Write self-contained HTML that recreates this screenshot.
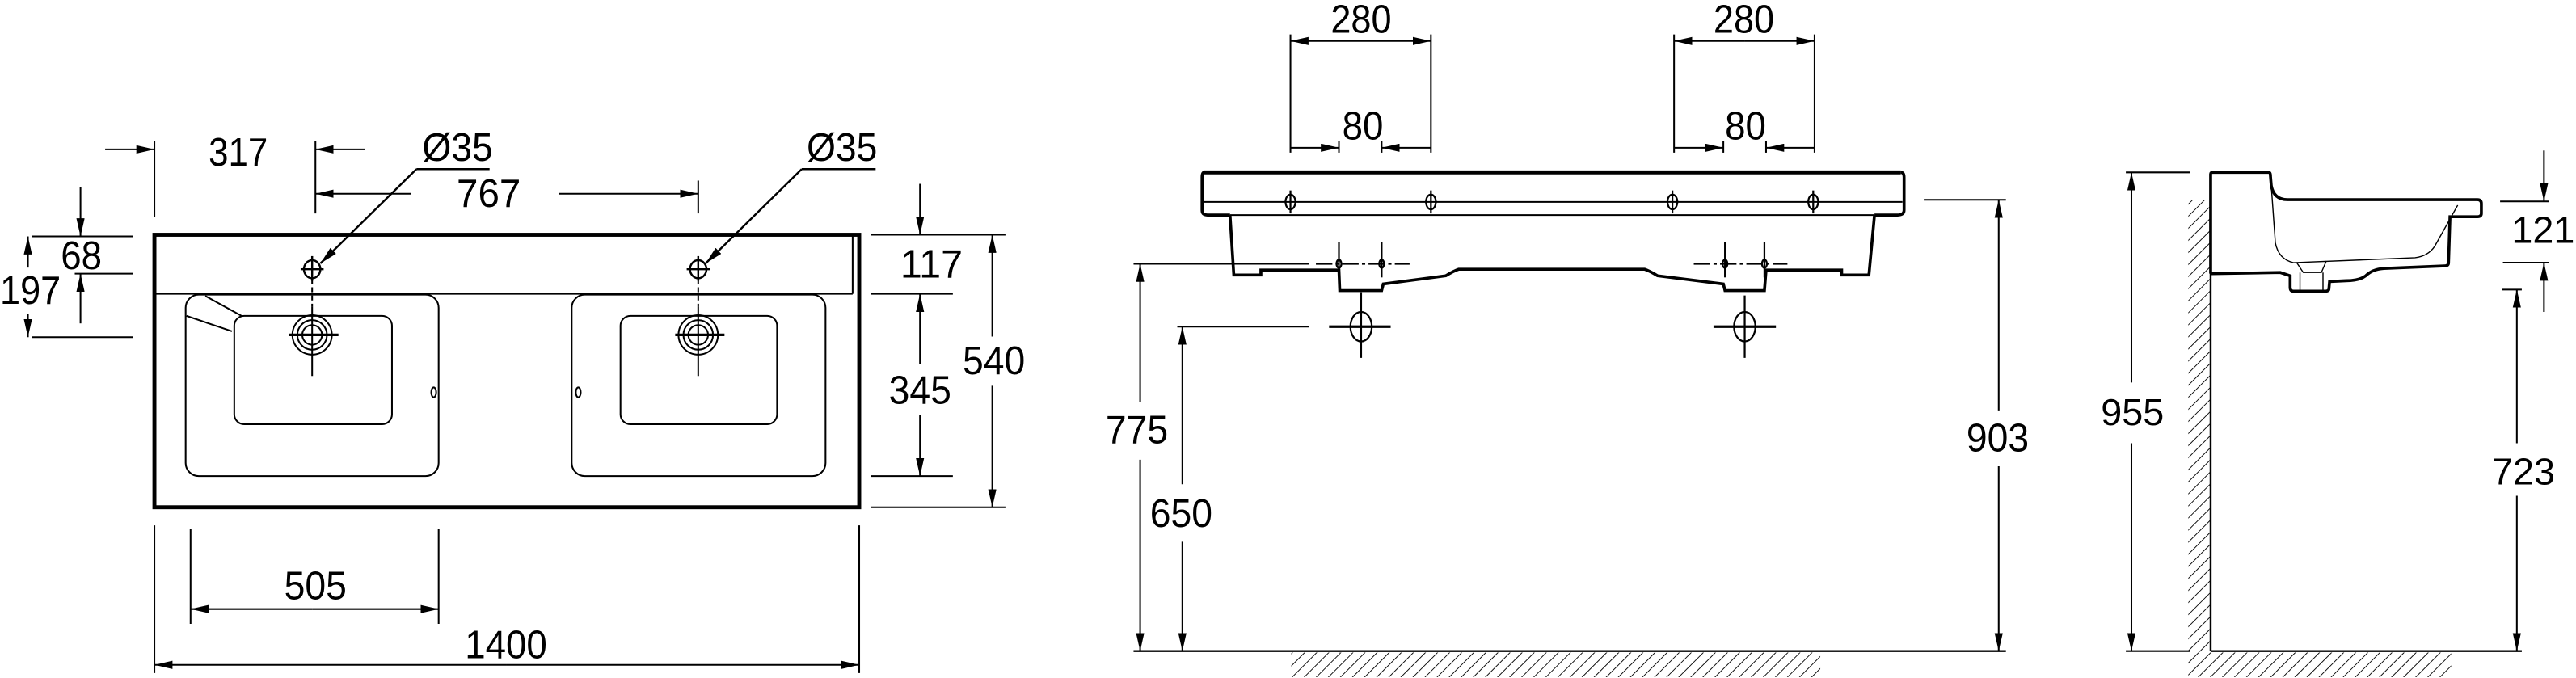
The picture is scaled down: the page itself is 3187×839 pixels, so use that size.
<!DOCTYPE html>
<html><head><meta charset="utf-8"><style>
html,body{margin:0;padding:0;background:#fff;}
svg{display:block;}
text{font-family:"Liberation Sans Narrow","Liberation Sans",sans-serif;fill:#000;}
</style></head><body>
<svg width="3187" height="839" viewBox="0 0 1568 413" preserveAspectRatio="none" xmlns="http://www.w3.org/2000/svg">
<defs>
<marker id="a" markerWidth="11" markerHeight="5" refX="11" refY="2.5" orient="auto-start-reverse" markerUnits="userSpaceOnUse"><path d="M0,0 L11,2.5 L0,5 Z" fill="#000"/></marker>
<pattern id="h" width="5.2" height="5.2" patternUnits="userSpaceOnUse" patternTransform="rotate(45)"><line x1="0" y1="0" x2="0" y2="5.2" stroke="#000" stroke-width="0.9"/></pattern>
</defs>
<g fill="none" stroke="#000" stroke-width="1">
<!-- LEFT VIEW -->
<rect x="94" y="143" width="429" height="166" stroke-width="2.4"/>
<line x1="95" y1="179" x2="519" y2="179"/>
<line x1="519" y1="144" x2="519" y2="179"/>
<rect x="113" y="179.5" width="154" height="110.5" rx="8"/>
<rect x="142.6" y="192.4" width="96" height="66" rx="6"/>
<line x1="113.5" y1="192.4" x2="141.2" y2="201.8"/>
<line x1="125" y1="180.3" x2="147" y2="192.4"/>
<rect x="348" y="179.5" width="154.5" height="110.5" rx="8"/>
<rect x="377.7" y="192.4" width="95.3" height="66" rx="6"/>
<ellipse cx="264" cy="239" rx="1.5" ry="3"/>
<ellipse cx="352" cy="239" rx="1.5" ry="3"/>
<g id="d1">
<circle cx="190" cy="204" r="12"/><circle cx="190" cy="204" r="9"/><circle cx="190" cy="204" r="6"/>
<line x1="176" y1="204" x2="206" y2="204" stroke-width="1.6"/>
<line x1="190" y1="187" x2="190" y2="229"/>
<line x1="190" y1="170" x2="190" y2="187" stroke-dasharray="3,2"/>
<ellipse cx="190" cy="164" rx="5" ry="5.5" stroke-width="1.2"/>
<line x1="183" y1="164" x2="197" y2="164" stroke-width="1.2"/>
<line x1="190" y1="156" x2="190" y2="171" stroke-width="1.2"/>
</g>
<use href="#d1" transform="translate(235,0)"/>
<line x1="94" y1="86" x2="94" y2="132"/>
<line x1="192" y1="86" x2="192" y2="130"/>
<line x1="64" y1="91" x2="94" y2="91" marker-end="url(#a)"/>
<line x1="222" y1="91" x2="192" y2="91" marker-end="url(#a)"/>
<line x1="425" y1="110" x2="425" y2="130"/>
<line x1="250" y1="118" x2="192" y2="118" marker-end="url(#a)"/>
<line x1="340" y1="118" x2="425" y2="118" marker-end="url(#a)"/>
<line x1="298" y1="103" x2="253.5" y2="103" stroke-width="1.2"/>
<line x1="253.5" y1="103" x2="195" y2="160.5" marker-end="url(#a)" stroke-width="1.2"/>
<line x1="533" y1="103" x2="488" y2="103" stroke-width="1.2"/>
<line x1="488" y1="103" x2="429.5" y2="160.5" marker-end="url(#a)" stroke-width="1.2"/>
<line x1="19.5" y1="144" x2="81" y2="144"/>
<line x1="45.5" y1="166.7" x2="81" y2="166.7"/>
<line x1="19.5" y1="205.4" x2="81" y2="205.4"/>
<line x1="49" y1="114" x2="49" y2="144" marker-end="url(#a)"/>
<line x1="49" y1="197" x2="49" y2="166.7" marker-end="url(#a)"/>
<line x1="17" y1="163" x2="17" y2="144" marker-end="url(#a)"/>
<line x1="17" y1="191" x2="17" y2="205.4" marker-end="url(#a)"/>
<line x1="530" y1="143" x2="612" y2="143"/>
<line x1="530" y1="179" x2="580" y2="179"/>
<line x1="530" y1="290" x2="580" y2="290"/>
<line x1="530" y1="309" x2="612" y2="309"/>
<line x1="560" y1="112" x2="560" y2="143" marker-end="url(#a)"/>
<line x1="560" y1="222" x2="560" y2="179" marker-end="url(#a)"/>
<line x1="560" y1="253" x2="560" y2="290" marker-end="url(#a)"/>
<line x1="604" y1="205" x2="604" y2="143" marker-end="url(#a)"/>
<line x1="604" y1="235" x2="604" y2="309" marker-end="url(#a)"/>
<line x1="94" y1="320" x2="94" y2="410"/>
<line x1="523" y1="320" x2="523" y2="410"/>
<line x1="116" y1="322" x2="116" y2="380"/>
<line x1="267" y1="322" x2="267" y2="380"/>
<line x1="190" y1="371" x2="116" y2="371" marker-end="url(#a)"/>
<line x1="190" y1="371" x2="267" y2="371" marker-end="url(#a)"/>
<line x1="308" y1="405" x2="94" y2="405" marker-end="url(#a)"/>
<line x1="308" y1="405" x2="523" y2="405" marker-end="url(#a)"/>

<!-- MIDDLE VIEW -->
<path d="M733,105 L1157,105" stroke-width="2.4"/>
<path d="M733,105 Q731.7,105 731.7,108 L731.7,128 Q731.7,131 735,131 L748.7,131 M1157,105 Q1159,105 1159,108 L1159,128 Q1159,131 1155,131 L1141,131" stroke-width="1.8"/>
<line x1="732" y1="123" x2="1158" y2="123"/>
<line x1="748.7" y1="131" x2="1141" y2="131"/>
<path d="M748.7,131 L751,167.5 L767.5,167.5 L767.5,164.5 L815,164.5 L815.5,177 L841,177 L842,173 L880,168 Q885,165 888,164 L1001,164 Q1004,165 1009,168 L1049,173 L1050,177 L1074,177 L1075,164.5 L1121,164.5 L1121,167.5 L1137.6,167.5 L1141,131" stroke-width="1.8"/>
<g stroke-width="1.1">
<g id="tp"><ellipse cx="785.5" cy="123" rx="3" ry="4.5"/><line x1="785.5" y1="116" x2="785.5" y2="130"/></g>
<use href="#tp" transform="translate(85.5,0)"/><use href="#tp" transform="translate(232.5,0)"/><use href="#tp" transform="translate(318.2,0)"/>
<line x1="801" y1="160.7" x2="858" y2="160.7" stroke-dasharray="10,2,2,2"/>
<line x1="1031" y1="160.7" x2="1088" y2="160.7" stroke-dasharray="10,2,2,2"/>
<line x1="815" y1="147.6" x2="815" y2="169"/><line x1="841" y1="147.6" x2="841" y2="169"/>
<line x1="1050" y1="147.6" x2="1050" y2="169"/><line x1="1074" y1="147.6" x2="1074" y2="169"/>
<ellipse cx="815" cy="160.7" rx="1.5" ry="2.5"/><ellipse cx="841" cy="160.7" rx="1.5" ry="2.5"/>
<ellipse cx="1050" cy="160.7" rx="1.5" ry="2.5"/><ellipse cx="1074" cy="160.7" rx="1.5" ry="2.5"/>
<ellipse cx="828.5" cy="199" rx="6.5" ry="9"/><line x1="809" y1="199" x2="846.5" y2="199" stroke-width="1.6"/><line x1="828.5" y1="178" x2="828.5" y2="218"/>
<ellipse cx="1062" cy="199" rx="6.5" ry="9"/><line x1="1043" y1="199" x2="1081" y2="199" stroke-width="1.6"/><line x1="1062" y1="180" x2="1062" y2="218"/>
</g>
<line x1="785.5" y1="21" x2="785.5" y2="93"/><line x1="871" y1="21" x2="871" y2="93"/>
<line x1="815" y1="86" x2="815" y2="93"/><line x1="841" y1="86" x2="841" y2="93"/>
<line x1="828" y1="25" x2="785.5" y2="25" marker-end="url(#a)"/><line x1="828" y1="25" x2="871" y2="25" marker-end="url(#a)"/>
<line x1="785.5" y1="90" x2="815" y2="90" marker-end="url(#a)"/><line x1="871" y1="90" x2="841" y2="90" marker-end="url(#a)"/>
<line x1="1019" y1="21" x2="1019" y2="93"/><line x1="1104.5" y1="21" x2="1104.5" y2="93"/>
<line x1="1049" y1="86" x2="1049" y2="93"/><line x1="1075" y1="86" x2="1075" y2="93"/>
<line x1="1062" y1="25" x2="1019" y2="25" marker-end="url(#a)"/><line x1="1062" y1="25" x2="1104.5" y2="25" marker-end="url(#a)"/>
<line x1="1019" y1="90" x2="1049" y2="90" marker-end="url(#a)"/><line x1="1104.5" y1="90" x2="1075" y2="90" marker-end="url(#a)"/>
<line x1="690" y1="160.7" x2="797" y2="160.7"/>
<line x1="716.6" y1="199" x2="797" y2="199"/>
<line x1="1171" y1="121.7" x2="1221" y2="121.7"/>
<line x1="690" y1="396.6" x2="1221" y2="396.6" stroke-width="1.2"/>
<line x1="694" y1="245" x2="694" y2="160.7" marker-end="url(#a)"/><line x1="694" y1="280" x2="694" y2="396.6" marker-end="url(#a)"/>
<line x1="719.7" y1="295" x2="719.7" y2="199" marker-end="url(#a)"/><line x1="719.7" y1="330" x2="719.7" y2="396.6" marker-end="url(#a)"/>
<line x1="1216.6" y1="250" x2="1216.6" y2="121.7" marker-end="url(#a)"/><line x1="1216.6" y1="284" x2="1216.6" y2="396.6" marker-end="url(#a)"/>
<rect x="786" y="397.5" width="322" height="15" fill="url(#h)" stroke="none"/>

<!-- RIGHT VIEW -->
<rect x="1332" y="122" width="13.6" height="275" fill="url(#h)" stroke="none"/>
<rect x="1332" y="397.5" width="160" height="15" fill="url(#h)" stroke="none"/>
<line x1="1345.6" y1="166" x2="1345.6" y2="396.6" stroke-width="1.2"/>
<line x1="1345.6" y1="396.6" x2="1535" y2="396.6" stroke-width="1.2"/>
<path d="M1345.6,166.7 L1345.6,106 Q1345.6,105 1347,105 L1381,105 Q1382,105 1382,107 L1382.5,113 Q1384,121.6 1392.3,121.6 L1508,121.6 Q1510.4,121.6 1510.4,124 L1510.4,130 Q1510.4,132 1508,132 L1491.3,132 L1490.4,160 Q1490.4,162 1488,162 L1451,163.5 Q1444,164 1440,168 Q1436,171 1428,171 L1418,171.5 L1417.6,176 Q1417.5,177.4 1415,177.4 L1396,177.4 Q1394,177.4 1394,175 L1394,168 L1388,166 L1345.6,166.7" stroke-width="1.8"/>
<path d="M1382.5,113 L1385,148 Q1387,158 1396,160 L1470,157 Q1478,156 1482,150 L1496,125" stroke-width="0.7"/>
<path d="M1398,160 L1402,166 L1413,166 L1416,159 M1400,166 L1400,177 M1414,166 L1414,177" stroke-width="0.7"/>
<line x1="1294" y1="105" x2="1333" y2="105"/>
<line x1="1294" y1="396.6" x2="1333" y2="396.6"/>
<line x1="1297.4" y1="233" x2="1297.4" y2="105" marker-end="url(#a)"/><line x1="1297.4" y1="270" x2="1297.4" y2="396.6" marker-end="url(#a)"/>
<line x1="1521.8" y1="122.7" x2="1551.4" y2="122.7"/>
<line x1="1523.5" y1="160" x2="1551.4" y2="160"/>
<line x1="1523" y1="176.4" x2="1535" y2="176.4"/>
<line x1="1548.5" y1="91.7" x2="1548.5" y2="122.7" marker-end="url(#a)"/>
<line x1="1548.5" y1="190" x2="1548.5" y2="160" marker-end="url(#a)"/>
<line x1="1532" y1="270" x2="1532" y2="176.4" marker-end="url(#a)"/><line x1="1532" y1="302" x2="1532" y2="396.6" marker-end="url(#a)"/>
</g>
<g font-size="24" lengthAdjust="spacingAndGlyphs">
<text x="127" y="101" textLength="36" lengthAdjust="spacingAndGlyphs">317</text>
<text x="257" y="98" textLength="43" lengthAdjust="spacingAndGlyphs">Ø35</text>
<text x="491" y="98" textLength="43" lengthAdjust="spacingAndGlyphs">Ø35</text>
<text x="278" y="126" textLength="39" lengthAdjust="spacingAndGlyphs">767</text>
<text x="37" y="164" textLength="25" lengthAdjust="spacingAndGlyphs">68</text>
<text x="0" y="185" textLength="37" lengthAdjust="spacingAndGlyphs">197</text>
<text x="548" y="169" textLength="38" lengthAdjust="spacingAndGlyphs">117</text>
<text x="541" y="246" textLength="38" lengthAdjust="spacingAndGlyphs">345</text>
<text x="586" y="228" textLength="38" lengthAdjust="spacingAndGlyphs">540</text>
<text x="173" y="365" textLength="38" lengthAdjust="spacingAndGlyphs">505</text>
<text x="283" y="401" textLength="50" lengthAdjust="spacingAndGlyphs">1400</text>
<text x="810" y="20" textLength="37" lengthAdjust="spacingAndGlyphs">280</text>
<text x="1043" y="20" textLength="37" lengthAdjust="spacingAndGlyphs">280</text>
<text x="817" y="85" textLength="25" lengthAdjust="spacingAndGlyphs">80</text>
<text x="1050" y="85" textLength="25" lengthAdjust="spacingAndGlyphs">80</text>
<text x="673" y="270" textLength="38" lengthAdjust="spacingAndGlyphs">775</text>
<text x="700" y="321" textLength="38" lengthAdjust="spacingAndGlyphs">650</text>
<text x="1197" y="275" textLength="38" lengthAdjust="spacingAndGlyphs">903</text>
</g>
<g font-size="23" style="font-family:'Liberation Sans',sans-serif">
<text x="1298" y="259" text-anchor="middle">955</text>
<text x="1548" y="148" text-anchor="middle">121</text>
<text x="1536" y="295" text-anchor="middle">723</text>
</g>
</svg>
</body></html>
